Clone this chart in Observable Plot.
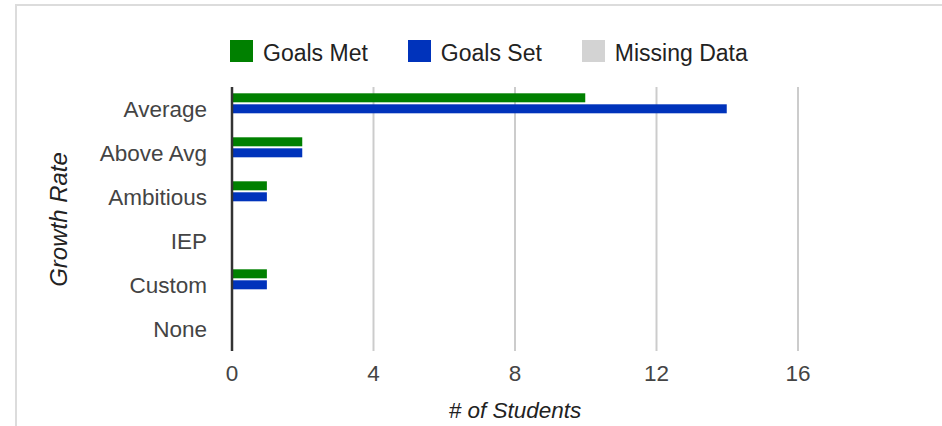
<!DOCTYPE html>
<html>
<head>
<meta charset="utf-8">
<script src="https://cdn.jsdelivr.net/npm/d3@7"></script>
<script src="https://cdn.jsdelivr.net/npm/@observablehq/plot@0.6"></script>
<style>
html, body { margin: 0; padding: 0; background: #fff; }
#wrap { position: relative; width: 942px; height: 426px; overflow: hidden; font-family: "Liberation Sans", Arial, sans-serif; }
#frame { position: absolute; left: 15px; top: 4px; right: 0; bottom: 0; border-top: 2px solid #dcdcdc; border-left: 2px solid #dcdcdc; }
#legend { position: absolute; left: 230px; top: 40px; display: flex; gap: 40px; font-size: 23px; color: #222; }
#legend .item { display: flex; align-items: flex-start; }
#legend .sw { width: 23px; height: 22px; margin-right: 10px; }
#legend .lab { line-height: 23px; margin-top: 2px; white-space: nowrap; }
#chart { position: absolute; left: 0; top: 0; }
g[aria-label$="axis label"], g[aria-label$="axis label"] text { font-style: italic; fill: #222; }
g[aria-label="fy-axis label"], g[aria-label="fy-axis label"] text { font-size: 24px; }
</style>
</head>
<body>
<div id="wrap">
  <div id="frame"></div>
  <div id="legend"></div>
  <div id="chart"></div>
</div>
<script>
// ---- data ----
const categories = ["Average", "Above Avg", "Ambitious", "IEP", "Custom", "None"];
const series = ["Goals Met", "Goals Set", "Missing Data"];
const colors = ["#008000", "#0033bb", "#d3d3d3"];
const goalsMet = [10, 2, 1, 0, 1, 0];
const goalsSet = [14, 2, 1, 0, 1, 0];
const missingData = [0, 0, 0, 0, 0, 0];
const xTicks = [0, 4, 8, 12, 16];
const xTitle = "# of Students";
const yTitle = "Growth Rate";

const seriesValues = [goalsMet, goalsSet, missingData];
const rows = categories.flatMap((c, i) =>
  series.map((s, j) => ({category: c, series: s, value: seriesValues[j][i]}))
);

// ---- legend ----
const legend = document.getElementById("legend");
series.forEach((s, i) => {
  const item = document.createElement("div");
  item.className = "item";
  const sw = document.createElement("div");
  sw.className = "sw";
  sw.style.background = colors[i];
  const lab = document.createElement("div");
  lab.className = "lab";
  lab.textContent = s;
  item.appendChild(sw);
  item.appendChild(lab);
  legend.appendChild(item);
});

// ---- chart ----
const chart = Plot.plot({
  width: 942,
  height: 426,
  marginLeft: 231.5,
  marginRight: 144.5,
  marginTop: 86.7,
  marginBottom: 75.3,
  style: {
    fontFamily: '"Liberation Sans", Arial, sans-serif',
    fontSize: "22.5px",
    color: "#444",
    background: "transparent",
    overflow: "visible"
  },
  x: {domain: [0, 16]},
  y: {domain: series, paddingInner: 0.18, paddingOuter: 0.56, axis: null},
  fy: {domain: categories, padding: 0},
  color: {domain: series, range: colors},
  marks: [
    Plot.gridX({ticks: xTicks.filter(d => d > 0), stroke: "#ccc", strokeOpacity: 1, strokeWidth: 2}),
    Plot.barX(rows, {x: "value", y: "series", fy: "category", fill: "series"}),
    Plot.ruleX([0], {stroke: "#333", strokeWidth: 2.5}),
    Plot.axisX({ticks: xTicks, tickSize: 0, tickPadding: 14, fontSize: 22.5, label: xTitle, labelArrow: "none", labelAnchor: "center", labelOffset: 66}),
    Plot.axisFy({anchor: "left", tickSize: 0, tickPadding: 25, fontSize: 22.5, dy: 0, label: yTitle, labelAnchor: "center", labelOffset: 182})
  ]
});
document.getElementById("chart").appendChild(chart);
</script>
</body>
</html>
